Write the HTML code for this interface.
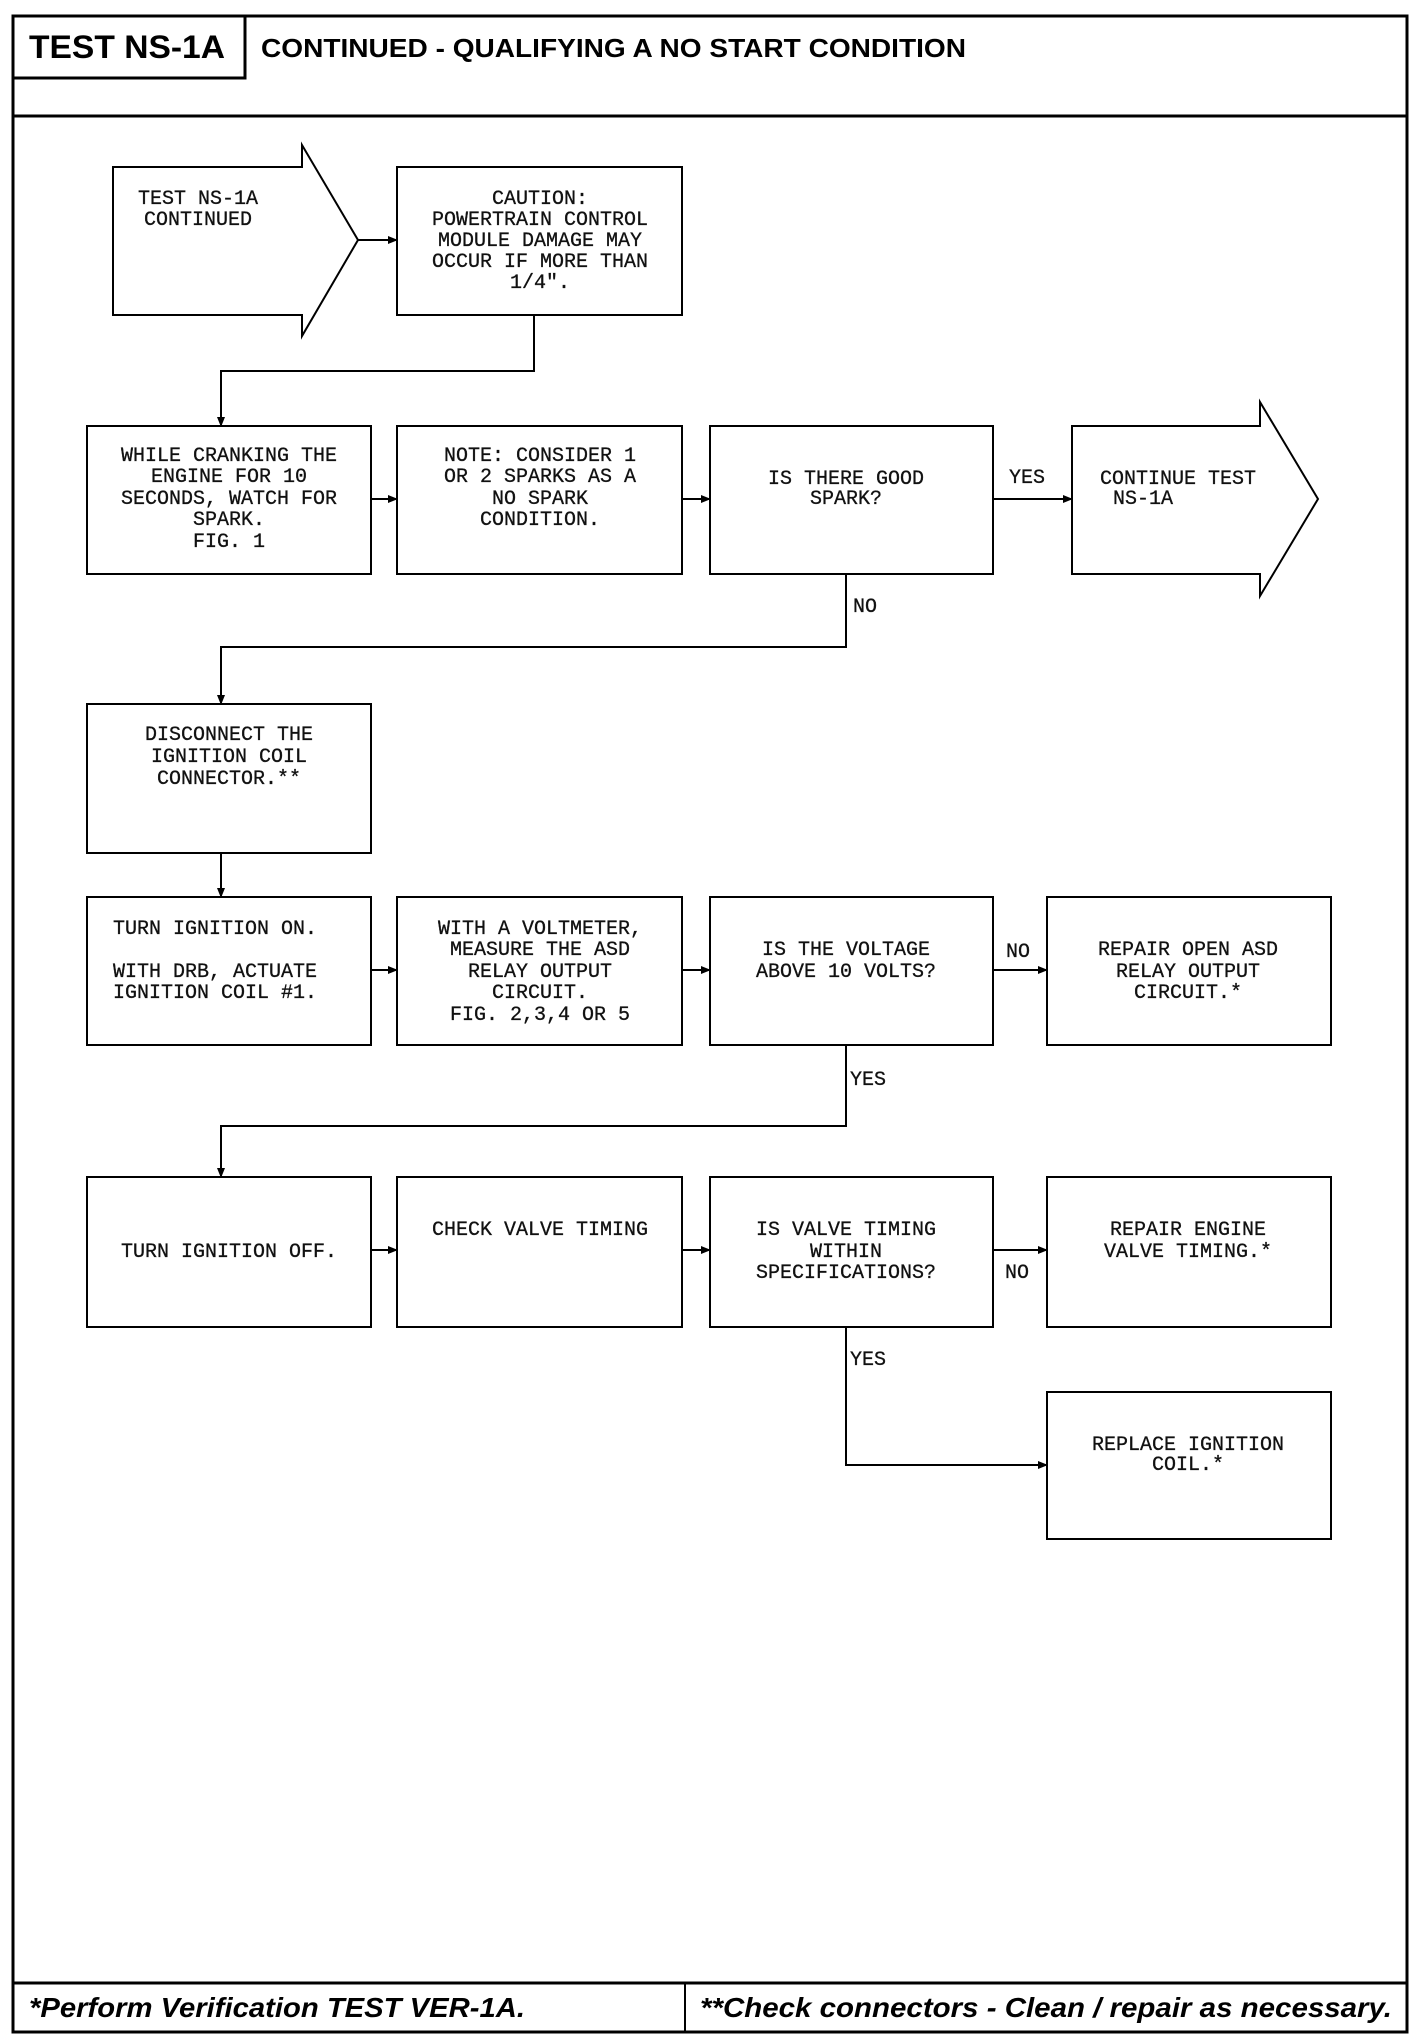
<!DOCTYPE html>
<html><head><meta charset="utf-8"><style>
html,body{margin:0;padding:0;background:#fff;}
svg{display:block;}
.t{font-family:"Liberation Mono",monospace;font-size:20px;fill:#111;stroke:#111;stroke-width:0.3;}
.b{font-family:"Liberation Sans",sans-serif;font-weight:bold;fill:#000;}
</style></head><body>
<svg width="1424" height="2040" viewBox="0 0 1424 2040" xmlns="http://www.w3.org/2000/svg">
<defs><marker id="a" markerWidth="10" markerHeight="8" refX="9" refY="4" orient="auto" markerUnits="userSpaceOnUse"><path d="M0,0 L10,4 L0,8 z" fill="#000"/></marker></defs>
<g fill="none" stroke="#000">
<rect x="13" y="16" width="1394" height="2016" stroke-width="3"/>
<path d="M13,78 H245 V16" stroke-width="3"/>
<line x1="13" y1="116" x2="1407" y2="116" stroke-width="3"/>
<line x1="13" y1="1983" x2="1407" y2="1983" stroke-width="3"/>
<line x1="685" y1="1983" x2="685" y2="2032" stroke-width="2"/>
<g stroke-width="2">
<path d="M113,167 H302 V145 L358,240 L302,336 V315 H113 Z"/>
<rect x="397" y="167" width="285" height="148"/>
<rect x="87" y="426" width="284" height="148"/>
<rect x="397" y="426" width="285" height="148"/>
<rect x="710" y="426" width="283" height="148"/>
<path d="M1072,426 H1260 V402 L1318,499 L1260,596 V574 H1072 Z"/>
<rect x="87" y="704" width="284" height="149"/>
<rect x="87" y="897" width="284" height="148"/>
<rect x="397" y="897" width="285" height="148"/>
<rect x="710" y="897" width="283" height="148"/>
<rect x="1047" y="897" width="284" height="148"/>
<rect x="87" y="1177" width="284" height="150"/>
<rect x="397" y="1177" width="285" height="150"/>
<rect x="710" y="1177" width="283" height="150"/>
<rect x="1047" y="1177" width="284" height="150"/>
<rect x="1047" y="1392" width="284" height="147"/>
<line x1="358" y1="240" x2="397" y2="240" marker-end="url(#a)"/>
<path d="M534,315 V371 H221 V426" marker-end="url(#a)"/>
<line x1="371" y1="499" x2="397" y2="499" marker-end="url(#a)"/>
<line x1="682" y1="499" x2="710" y2="499" marker-end="url(#a)"/>
<line x1="993" y1="499" x2="1072" y2="499" marker-end="url(#a)"/>
<path d="M846,574 V647 H221 V704" marker-end="url(#a)"/>
<line x1="221" y1="853" x2="221" y2="897" marker-end="url(#a)"/>
<line x1="371" y1="970" x2="397" y2="970" marker-end="url(#a)"/>
<line x1="682" y1="970" x2="710" y2="970" marker-end="url(#a)"/>
<line x1="993" y1="970" x2="1047" y2="970" marker-end="url(#a)"/>
<path d="M846,1045 V1126 H221 V1177" marker-end="url(#a)"/>
<line x1="371" y1="1250" x2="397" y2="1250" marker-end="url(#a)"/>
<line x1="682" y1="1250" x2="710" y2="1250" marker-end="url(#a)"/>
<line x1="993" y1="1250" x2="1047" y2="1250" marker-end="url(#a)"/>
<path d="M846,1327 V1465 H1047" marker-end="url(#a)"/>
</g></g>
<text class="b" x="29" y="58" font-size="32" textLength="196" lengthAdjust="spacingAndGlyphs">TEST NS-1A</text>
<text class="b" x="261" y="57" font-size="26" textLength="705" lengthAdjust="spacingAndGlyphs">CONTINUED - QUALIFYING A NO START CONDITION</text>
<g class="t" text-anchor="middle">
<text x="198" y="204">TEST NS-1A</text><text x="198" y="225">CONTINUED</text>
<text x="540" y="204">CAUTION:</text><text x="540" y="225">POWERTRAIN CONTROL</text><text x="540" y="246">MODULE DAMAGE MAY</text><text x="540" y="267">OCCUR IF MORE THAN</text><text x="540" y="288">1/4".</text>
<text x="229" y="461">WHILE CRANKING THE</text><text x="229" y="482">ENGINE FOR 10</text><text x="229" y="504">SECONDS, WATCH FOR</text><text x="229" y="525">SPARK.</text><text x="229" y="547">FIG. 1</text>
<text x="540" y="461">NOTE: CONSIDER 1</text><text x="540" y="482">OR 2 SPARKS AS A</text><text x="540" y="504">NO SPARK</text><text x="540" y="525">CONDITION.</text>
<text x="846" y="484">IS THERE GOOD</text><text x="846" y="504">SPARK?</text>
<text x="229" y="740">DISCONNECT THE</text><text x="229" y="762">IGNITION COIL</text><text x="229" y="784">CONNECTOR.**</text>
<text x="540" y="934">WITH A VOLTMETER,</text><text x="540" y="955">MEASURE THE ASD</text><text x="540" y="977">RELAY OUTPUT</text><text x="540" y="998">CIRCUIT.</text><text x="540" y="1020">FIG. 2,3,4 OR 5</text>
<text x="846" y="955">IS THE VOLTAGE</text><text x="846" y="977">ABOVE 10 VOLTS?</text>
<text x="1188" y="955">REPAIR OPEN ASD</text><text x="1188" y="977">RELAY OUTPUT</text><text x="1188" y="998">CIRCUIT.*</text>
<text x="229" y="1257">TURN IGNITION OFF.</text>
<text x="540" y="1235">CHECK VALVE TIMING</text>
<text x="846" y="1235">IS VALVE TIMING</text><text x="846" y="1257">WITHIN</text><text x="846" y="1278">SPECIFICATIONS?</text>
<text x="1188" y="1235">REPAIR ENGINE</text><text x="1188" y="1257">VALVE TIMING.*</text>
<text x="1188" y="1450">REPLACE IGNITION</text><text x="1188" y="1470">COIL.*</text>
</g>
<g class="t">
<text x="113" y="934">TURN IGNITION ON.</text>
<text x="113" y="977">WITH DRB, ACTUATE</text><text x="113" y="998">IGNITION COIL #1.</text>
<text x="1100" y="484">CONTINUE TEST</text><text x="1113" y="504">NS-1A</text>
<text x="1009" y="483">YES</text>
<text x="853" y="612">NO</text>
<text x="1006" y="957">NO</text>
<text x="850" y="1085">YES</text>
<text x="1005" y="1278">NO</text>
<text x="850" y="1365">YES</text>
</g>
<text class="b" x="29" y="2017" font-size="28" font-style="italic" textLength="496" lengthAdjust="spacingAndGlyphs">*Perform Verification TEST VER-1A.</text>
<text class="b" x="700" y="2017" font-size="28" font-style="italic" textLength="692" lengthAdjust="spacingAndGlyphs">**Check connectors - Clean / repair as necessary.</text>
</svg>
</body></html>
